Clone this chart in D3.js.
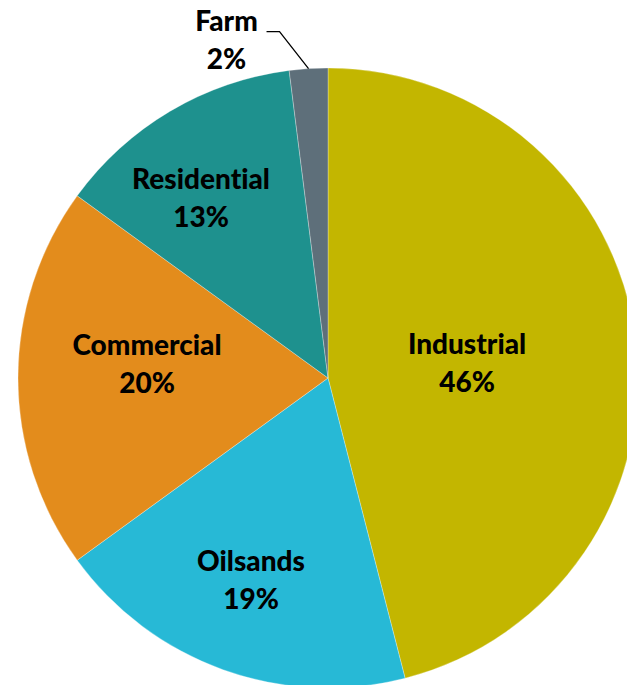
<!DOCTYPE html>
<html>
<head>
<meta charset="utf-8">
<script src="https://cdn.jsdelivr.net/npm/d3@7"></script>
<style>
  html, body { margin: 0; padding: 0; background: #fff; }
  svg { display: block; }
  text { font-family: Lato, "Open Sans", sans-serif; font-weight: 900; fill: #000; font-variant-ligatures: none; }
</style>
</head>
<body>
<svg id="chart" width="627" height="685" viewBox="0 0 627 685"></svg>
<script>
// sector shares (%)
const sectors = ["Industrial", "Oilsands", "Commercial", "Residential", "Farm"]
const shares = [46, 19, 20, 13, 2]
const colors = ["#C3B600", "#27B9D6", "#E38C1C", "#1E918E", "#5E6F7A"]

// label placement: offset from pie centre (px), Excel "best fit" style
const labelOffsets = [[139, -24], [-77, 193], [-181, -23], [-127, -189]]

const svg = d3.select("#chart")
const cx = 328, cy = 378, R = 310

const data = sectors.map((s, i) => ({ name: s, value: shares[i], color: colors[i] }))

const pie = d3.pie().sort(null).value(d => d.value)
const arcs = pie(data)
const arc = d3.arc().innerRadius(0).outerRadius(R)

const g = svg.append("g").attr("transform", `translate(${cx},${cy})`)

g.selectAll("path")
  .data(arcs)
  .enter()
  .append("path")
  .attr("d", arc)
  .attr("fill", d => d.data.color)
  .attr("stroke", "#fff")
  .attr("stroke-width", 0.3)

// inside labels
const fs = 28, lh = 38
arcs.slice(0, 4).forEach((d, i) => {
  const [dx, dy] = labelOffsets[i]
  const t = g.append("text")
    .attr("text-anchor", "middle")
    .attr("font-size", fs)
    .attr("x", dx).attr("y", dy)
  t.append("tspan").attr("x", dx).attr("dy", 0).text(d.data.name)
  t.append("tspan").attr("x", dx).attr("dy", lh).text(Math.round(d.data.value) + "%")
})

// Farm: outside label with leader line
const farm = arcs[4]
const mid = (farm.startAngle + farm.endAngle) / 2
const edge = [R * Math.sin(mid), -R * Math.cos(mid)]
const elbow = [edge[0] - 29, edge[1] - 37]
g.append("polyline")
  .attr("points", [edge, elbow, [elbow[0] - 13, elbow[1]]].map(p => p.join(",")).join(" "))
  .attr("fill", "none")
  .attr("stroke", "#000")
  .attr("stroke-width", 1.3)

const ft = g.append("text")
  .attr("text-anchor", "middle")
  .attr("font-size", fs)
  .attr("x", elbow[0] - 53).attr("y", elbow[1] - 1)
ft.append("tspan").attr("x", elbow[0] - 53).attr("dy", 0).text(farm.data.name)
ft.append("tspan").attr("x", elbow[0] - 53).attr("dy", lh).text(farm.data.value + "%")
</script>
</body>
</html>
